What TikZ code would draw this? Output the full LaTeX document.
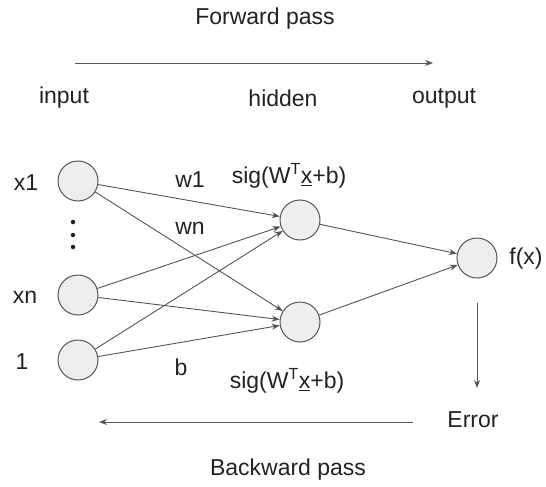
\documentclass[tikz,border=0pt]{standalone}
\usepackage{fontspec}
\setmainfont{Liberation Sans}
\usetikzlibrary{arrows.meta}
\definecolor{nodefill}{HTML}{EEEEEE}
\definecolor{edgegray}{HTML}{555555}
\definecolor{txt}{HTML}{222222}
\begin{document}
\begin{tikzpicture}[x=1pt,y=-1pt,
  neuron/.style={circle,draw=edgegray,fill=nodefill,line width=1pt,minimum size=40pt,inner sep=0pt},
  lbl/.style={text=txt,font=\fontsize{23}{26}\selectfont,inner sep=1pt},
  conn/.style={draw=edgegray,line width=0.9pt,-{Stealth[length=8pt,width=6pt]}},
  dotmark/.style={circle,fill=txt,inner sep=0pt,minimum size=4.5pt}]
\useasboundingbox (0,0) rectangle (546,487);
% nodes
\node[neuron] (x1) at (78,181) {};
\node[neuron] (xn) at (78,295) {};
\node[neuron] (one) at (78,360) {};
\node[neuron] (h1) at (300,220) {};
\node[neuron] (h2) at (300,322) {};
\node[neuron] (out) at (477,258) {};
% labels
\node[lbl] (lx1) at (26,183) {x1};
\node[lbl] (lxn) at (25,297) {xn};
\node[lbl] (lone) at (22,362) {1};
\node[dotmark] (d1) at (73,222) {};
\node[dotmark] (d2) at (73,235) {};
\node[dotmark] (d3) at (73,247) {};
\node[lbl] (lw1) at (190,180) {w1};
\node[lbl] (lwn) at (190,228) {wn};
\node[lbl] (lb) at (181,367) {b};
\node[lbl] (sig1) at (289,176) {sig(W\textsuperscript{T}\underline{x}+b)};
\node[lbl] (sig2) at (287,381) {sig(W\textsuperscript{T}\underline{x}+b)};
\node[lbl] (fx) at (526,259) {f(x)};
\node[lbl] (err) at (473,420) {Error};
\node[lbl] (fwd) at (265,19) {Forward pass};
\node[lbl] (bwd) at (288,470) {Backward pass};
\node[lbl] (linput) at (64,98) {input};
\node[lbl] (lhidden) at (283,98) {hidden};
\node[lbl] (loutput) at (444,98) {output};
% coordinates for free arrows
\coordinate (fa) at (75,63);
\coordinate (fb) at (433,63);
\coordinate (ba) at (413,422);
\coordinate (bb) at (99,422);
\coordinate (va) at (477,303);
\coordinate (vb) at (477,388);
% connectors
\draw[conn] (x1) -- (h1);
\draw[conn] (x1) -- (h2);
\draw[conn] (xn) -- (h1);
\draw[conn] (xn) -- (h2);
\draw[conn] (one) -- (h1);
\draw[conn] (one) -- (h2);
\draw[conn] (h1) -- (out);
\draw[conn] (h2) -- (out);
\draw[conn] (fa) -- (fb);
\draw[conn] (ba) -- (bb);
\draw[conn] (va) -- (vb);
\end{tikzpicture}
\end{document}
